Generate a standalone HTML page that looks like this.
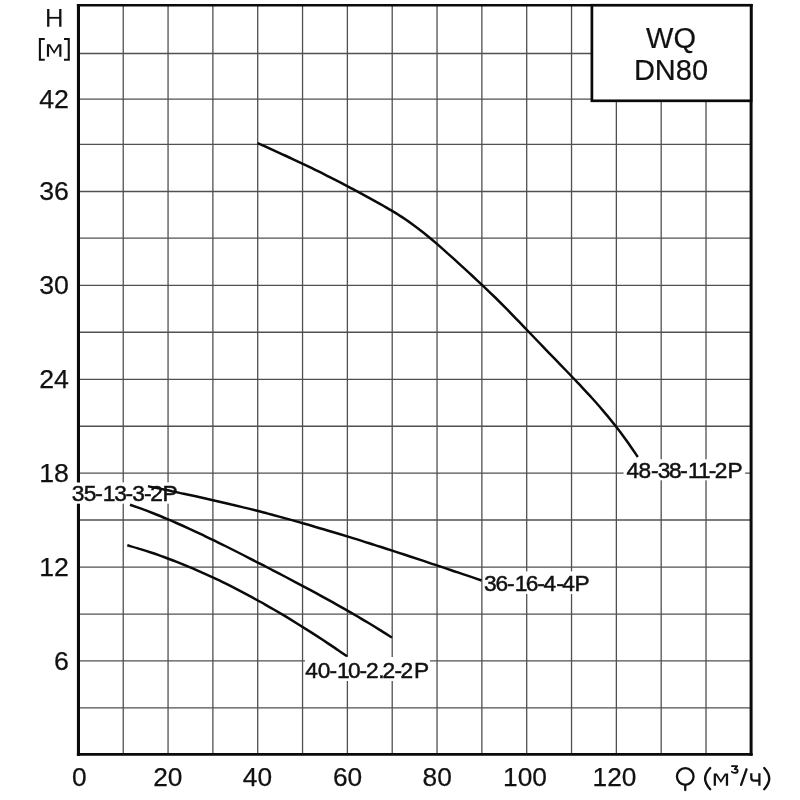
<!DOCTYPE html>
<html><head><meta charset="utf-8"><title>WQ DN80</title>
<style>
html,body{margin:0;padding:0;background:#fff;}
body{width:800px;height:800px;overflow:hidden;}
svg{display:block;filter:grayscale(1)}
text{font-family:"Liberation Sans",sans-serif;fill:#111;}
.ax{font-size:26.3px;stroke:#111;stroke-width:0.25px;}
.lb{font-size:22.7px;stroke:#111;stroke-width:0.5px;}
.bx{font-size:29px;stroke:#111;stroke-width:0.2px;}
</style></head><body>
<svg width="800" height="800" viewBox="0 0 800 800">
<rect width="800" height="800" fill="#fff"/>

<g stroke="#505050" stroke-width="1.3" fill="none">
<line x1="123.23" y1="5" x2="123.23" y2="754"/>
<line x1="168.06" y1="5" x2="168.06" y2="754"/>
<line x1="212.89" y1="5" x2="212.89" y2="754"/>
<line x1="257.72" y1="5" x2="257.72" y2="754"/>
<line x1="302.55" y1="5" x2="302.55" y2="754"/>
<line x1="347.38" y1="5" x2="347.38" y2="754"/>
<line x1="392.21" y1="5" x2="392.21" y2="754"/>
<line x1="437.04" y1="5" x2="437.04" y2="754"/>
<line x1="481.87" y1="5" x2="481.87" y2="754"/>
<line x1="526.70" y1="5" x2="526.70" y2="754"/>
<line x1="571.53" y1="5" x2="571.53" y2="754"/>
<line x1="616.36" y1="5" x2="616.36" y2="754"/>
<line x1="661.19" y1="5" x2="661.19" y2="754"/>
<line x1="706.02" y1="5" x2="706.02" y2="754"/>
<line x1="78" y1="707.90" x2="750" y2="707.90"/>
<line x1="78" y1="660.90" x2="750" y2="660.90"/>
<line x1="78" y1="614.10" x2="750" y2="614.10"/>
<line x1="78" y1="567.10" x2="750" y2="567.10"/>
<line x1="78" y1="520.00" x2="750" y2="520.00"/>
<line x1="78" y1="473.10" x2="750" y2="473.10"/>
<line x1="78" y1="426.25" x2="750" y2="426.25"/>
<line x1="78" y1="379.40" x2="750" y2="379.40"/>
<line x1="78" y1="332.25" x2="750" y2="332.25"/>
<line x1="78" y1="285.40" x2="750" y2="285.40"/>
<line x1="78" y1="238.10" x2="750" y2="238.10"/>
<line x1="78" y1="191.50" x2="750" y2="191.50"/>
<line x1="78" y1="144.40" x2="750" y2="144.40"/>
<line x1="78" y1="99.10" x2="750" y2="99.10"/>
<line x1="78" y1="53.50" x2="750" y2="53.50"/>
</g>
<g fill="#fff">
<rect x="66" y="482.4" width="113" height="21.3"/>
<rect x="623.6" y="459.3" width="121.5" height="21"/>
<rect x="483.5" y="571.4" width="106.5" height="22.6"/>
<rect x="305" y="657" width="125" height="24"/>
</g>
<g stroke="#0a0a0a" fill="none">
<line x1="78.45" y1="4" x2="78.45" y2="482.4" stroke-width="3.1"/>
<line x1="78.45" y1="503.7" x2="78.45" y2="755.85" stroke-width="3.1"/>
<line x1="76.9" y1="754.45" x2="752.6" y2="754.45" stroke-width="2.8"/>
<line x1="76.9" y1="5.25" x2="752.6" y2="5.25" stroke-width="2.5"/>
<line x1="751.1" y1="4" x2="751.1" y2="755.85" stroke-width="3"/>
</g>
<rect x="591.9" y="5.25" width="159.2" height="95.55" fill="#fff" stroke="#0a0a0a" stroke-width="2.7"/>
<text class="bx" x="671" y="47.8" text-anchor="middle">WQ</text>
<text class="bx" x="671" y="80" text-anchor="middle">DN80</text>
<g stroke="#0a0a0a" stroke-width="2.5" fill="none" stroke-linecap="butt">
<path d="M257.5 143.1 C259.5 144.0 265.4 146.6 269.4 148.4 C273.3 150.2 277.3 152.0 281.3 153.8 C285.2 155.6 289.2 157.4 293.2 159.3 C297.1 161.1 301.1 163.0 305.0 164.9 C309.0 166.8 313.0 168.7 316.9 170.7 C320.9 172.6 324.8 174.6 328.8 176.6 C332.8 178.6 336.7 180.6 340.7 182.7 C344.7 184.7 348.6 186.8 352.6 188.9 C356.5 191.0 360.5 193.1 364.5 195.3 C368.4 197.4 372.4 199.6 376.3 201.9 C380.3 204.1 384.3 206.3 388.2 208.6 C392.2 211.0 396.2 213.3 400.1 215.9 C404.1 218.4 408.0 221.1 412.0 223.9 C416.0 226.8 419.9 229.8 423.9 233.0 C427.8 236.2 431.8 239.5 435.8 242.9 C439.7 246.3 443.7 249.8 447.6 253.4 C451.6 256.9 455.6 260.5 459.5 264.1 C463.5 267.7 467.5 271.3 471.4 275.0 C475.4 278.7 479.3 282.4 483.3 286.1 C487.3 289.9 491.2 293.7 495.2 297.5 C499.1 301.4 503.1 305.4 507.1 309.4 C511.0 313.4 515.0 317.6 519.0 321.7 C522.9 325.8 526.9 329.9 530.8 334.0 C534.8 338.1 538.8 342.3 542.7 346.4 C546.7 350.5 550.6 354.6 554.6 358.7 C558.6 362.8 562.5 366.9 566.5 371.0 C570.5 375.1 574.4 379.2 578.4 383.4 C582.3 387.6 586.3 391.8 590.3 396.2 C594.2 400.5 598.2 404.9 602.1 409.6 C606.1 414.2 610.1 419.0 614.0 424.0 C618.0 429.0 622.0 434.2 625.9 439.7 C629.9 445.2 635.8 454.1 637.8 457.0"/>
<path d="M148.0 486.1 C150.0 486.6 155.9 487.8 159.9 488.6 C163.9 489.5 167.9 490.3 171.8 491.2 C175.8 492.0 179.8 492.9 183.7 493.7 C187.7 494.6 191.7 495.4 195.7 496.3 C199.6 497.2 203.6 498.1 207.6 499.0 C211.5 499.9 215.5 500.8 219.5 501.7 C223.5 502.6 227.4 503.5 231.4 504.5 C235.4 505.4 239.3 506.4 243.3 507.4 C247.3 508.3 251.3 509.3 255.2 510.3 C259.2 511.4 263.2 512.4 267.1 513.4 C271.1 514.5 275.1 515.5 279.1 516.6 C283.0 517.7 287.0 518.8 291.0 519.9 C294.9 521.0 298.9 522.1 302.9 523.3 C306.9 524.4 310.8 525.5 314.8 526.7 C318.8 527.8 322.7 529.0 326.7 530.2 C330.7 531.4 334.7 532.6 338.6 533.8 C342.6 535.0 346.6 536.2 350.5 537.4 C354.5 538.7 358.5 539.9 362.5 541.1 C366.4 542.4 370.4 543.6 374.4 544.9 C378.3 546.2 382.3 547.4 386.3 548.7 C390.3 550.0 394.2 551.3 398.2 552.6 C402.2 553.9 406.1 555.2 410.1 556.5 C414.1 557.8 418.1 559.1 422.0 560.4 C426.0 561.7 430.0 563.1 433.9 564.4 C437.9 565.7 441.9 567.1 445.9 568.4 C449.8 569.7 453.8 571.1 457.8 572.4 C461.7 573.8 465.7 575.1 469.7 576.4 C473.7 577.8 479.6 579.8 481.6 580.5"/>
<path d="M130.0 504.7 C132.0 505.4 137.9 507.5 141.9 508.9 C145.9 510.4 149.8 511.9 153.8 513.5 C157.8 515.1 161.8 516.7 165.7 518.4 C169.7 520.0 173.7 521.7 177.6 523.5 C181.6 525.2 185.6 527.0 189.5 528.9 C193.5 530.7 197.5 532.5 201.5 534.4 C205.4 536.3 209.4 538.2 213.4 540.2 C217.3 542.1 221.3 544.0 225.3 546.0 C229.2 548.0 233.2 550.0 237.2 552.0 C241.2 554.0 245.1 556.0 249.1 558.1 C253.1 560.1 257.0 562.1 261.0 564.2 C265.0 566.2 268.9 568.3 272.9 570.3 C276.9 572.4 280.8 574.4 284.8 576.5 C288.8 578.6 292.8 580.7 296.7 582.8 C300.7 584.9 304.7 587.0 308.6 589.1 C312.6 591.3 316.6 593.4 320.5 595.6 C324.5 597.8 328.5 600.0 332.5 602.2 C336.4 604.4 340.4 606.6 344.4 608.9 C348.3 611.1 352.3 613.4 356.3 615.8 C360.2 618.1 364.2 620.4 368.2 622.8 C372.2 625.2 376.1 627.6 380.1 630.1 C384.1 632.5 390.0 636.3 392.0 637.5"/>
<path d="M127.3 545.3 C129.3 545.9 135.4 547.6 139.5 548.9 C143.6 550.1 147.6 551.4 151.7 552.8 C155.8 554.1 159.8 555.6 163.9 557.0 C168.0 558.5 172.1 560.0 176.1 561.6 C180.2 563.2 184.3 564.9 188.3 566.6 C192.4 568.3 196.5 570.0 200.5 571.8 C204.6 573.6 208.7 575.5 212.7 577.4 C216.8 579.3 220.9 581.2 224.9 583.2 C229.0 585.2 233.1 587.3 237.1 589.4 C241.2 591.5 245.3 593.6 249.4 595.8 C253.4 598.0 257.5 600.3 261.6 602.5 C265.6 604.8 269.7 607.2 273.8 609.5 C277.8 611.9 281.9 614.3 286.0 616.7 C290.0 619.2 294.1 621.7 298.2 624.2 C302.2 626.7 306.3 629.3 310.4 631.9 C314.5 634.5 318.5 637.1 322.6 639.8 C326.7 642.5 330.7 645.2 334.8 647.9 C338.9 650.7 345.0 654.9 347.0 656.2"/>
</g>
<text class="ax" style="font-size:26.7px" x="68.9" y="669.9" text-anchor="end">6</text>
<text class="ax" style="font-size:26.7px" x="68.9" y="576.1" text-anchor="end">12</text>
<text class="ax" style="font-size:26.7px" x="68.9" y="482.1" text-anchor="end">18</text>
<text class="ax" style="font-size:26.7px" x="68.9" y="388.3" text-anchor="end">24</text>
<text class="ax" style="font-size:26.7px" x="68.9" y="294.3" text-anchor="end">30</text>
<text class="ax" style="font-size:26.7px" x="68.9" y="200.4" text-anchor="end">36</text>
<text class="ax" style="font-size:26.7px" x="68.9" y="108.0" text-anchor="end">42</text>
<text class="ax" x="79.4" y="785.8" text-anchor="middle">0</text>
<text class="ax" x="167.8" y="785.8" text-anchor="middle">20</text>
<text class="ax" x="257.4" y="785.8" text-anchor="middle">40</text>
<text class="ax" x="347.6" y="785.8" text-anchor="middle">60</text>
<text class="ax" x="437.2" y="785.8" text-anchor="middle">80</text>
<text class="ax" x="525.0" y="785.8" text-anchor="middle">100</text>
<text class="ax" x="614.5" y="785.8" text-anchor="middle">120</text>
<text class="lb" x="71.7 83.7 95.2 102.7 114.2 125.4 132.2 143.9 150.3 162.4" y="501.4">35-13-3-2P</text>
<text class="lb" x="626.6 638.5 651.0 657.7 668.9 680.2 687.9 697.9 708.8 714.8 727.5" y="478.3">48-38-11-2P</text>
<text class="lb" x="484.0 495.5 507.1 514.8 525.7 537.2 543.5 556.3 562.2 574.4" y="591.2">36-16-4-4P</text>
<text class="lb" x="305.3 317.8 329.4 337.0 348.1 359.6 365.9 378.2 382.6 394.6 400.6 414.0" y="677.8">40-10-2.2-2P</text>
<g stroke="#111" stroke-width="2.3" fill="none" stroke-linejoin="miter">
<path d="M48.25 9V26.85M60.3 9V26.85"/>
<path d="M48.25 17.8H60.3" stroke-width="1.8"/>
<path d="M44.75 39H39.9V59.8H44.75" stroke-width="2.1"/>
<path d="M64 39H68.75V59.8H64" stroke-width="2.1"/>
</g>
<path fill="#111" d="M46.9 56.75V44.25H50L54.15 50.9L58.3 44.25H61.4V56.75H59.25V46.1L54.15 54L49.05 46.1V56.75Z"/>
<g stroke="#111" stroke-width="2.3" fill="none" stroke-linecap="round" stroke-linejoin="round">
<circle cx="685.25" cy="776.5" r="8.3"/>
<path d="M685.25 785V790"/>
<path d="M710.2 768Q700.1 778.6 710.2 789.2"/>
<path d="M731.9 766.2H737.2L734.7 769Q737.9 769.1 737.7 771Q737.4 773 734.6 772.9Q732.7 772.8 731.8 771.7" stroke-width="1.8"/>
<path d="M746.5 769.3L741.1 784.8"/>
<path d="M751.3 773.2V777.7Q751.3 780.7 754.3 780.7H759.4M759.4 773.2V785.75" stroke-linecap="butt" stroke-width="2.25"/>
<path d="M764.2 768Q774.2 778.6 764.2 789.2"/>
</g>
<path fill="#111" d="M713.7 785.75V773.4H716.9L720.9 779.75L724.9 773.4H728.1V785.75H725.85V775.25L720.9 782.9L715.95 775.25V785.75Z"/>
</svg></body></html>
